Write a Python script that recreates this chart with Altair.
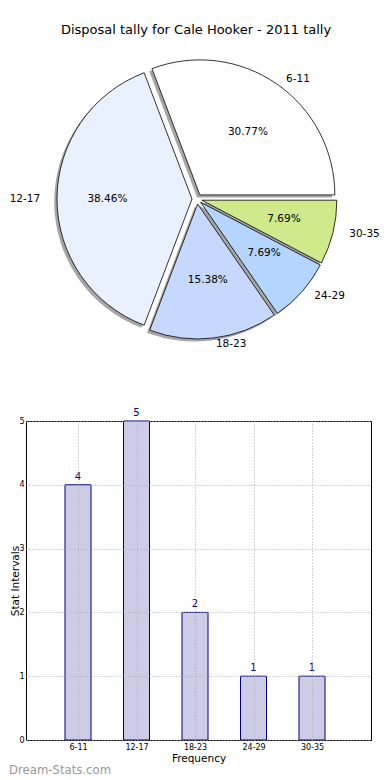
import altair as alt
import pandas as pd

# ---- data ----
categories = ["6-11", "12-17", "18-23", "24-29", "30-35"]
counts = [4, 5, 2, 1, 1]
slice_colors = ["#ffffff", "#eaf1fe", "#c6d8fe", "#b4d5fe", "#ceea8a"]
chart_title = ["Disposal tally for Cale Hooker - 2011 tally"]
x_title = "Frequency"
y_title = "Stat Intervals"
y_ticks = [0, 1, 2, 3, 4, 5]
watermark = ["Dream-Stats.com"]

# ---- layout constants ----
FONT = "DejaVu Sans"
OX = 25          # page x of panel origin
OY = 8
PW = 370 - OX    # panel width
PIE_H = 393
BAR_H = 319
CX = 196 - OX
CY = 199 - OY
R = 135
EXPL = 5
RX, RY = 138, 128
STEP = 58.5
X_PAD = (PW / STEP - 4) / 2
X_ALIGN = (77 - OX) / (PW - 4 * STEP)

df = pd.DataFrame({"cat": categories, "count": counts,
                   "idx": list(range(len(categories))), "color": slice_colors})

pie_base = (
    alt.Chart(df)
    .transform_window(cum="sum(count)", sort=[alt.SortField("idx", order="ascending")], frame=[None, 0])
    .transform_joinaggregate(total="sum(count)")
    .transform_calculate(
        a0="2*PI*(datum.cum - datum.count)/datum.total",
        a1="2*PI*datum.cum/datum.total",
        am="(datum.a0 + datum.a1)/2",
        t0="PI/2 - datum.a1",
        t1="PI/2 - datum.a0",
        ex=f"{CX} + {EXPL}*cos(datum.am)",
        ey=f"{CY} - {EXPL}*sin(datum.am)",
        pct="format(100*datum.count/datum.total, '.2f') + '%'",
        lx=f"datum.ex + {1.1*RX}*cos(datum.am)",
        ly=f"datum.ey - {1.1*RY}*sin(datum.am)",
        px=f"datum.ex + {0.6*141}*cos(datum.am)",
        py=f"datum.ey - {0.6*RY}*sin(datum.am)",
        sx="datum.ex - 2.8",
        sy="datum.ey + 2.6",
        side="cos(datum.am) >= 0 ? 'r' : 'l'",
    )
)

theta = alt.Theta("t0:Q", scale=None, stack=None)
theta2 = alt.Theta2("t1:Q")

shadow = pie_base.mark_arc(fill="#4d4d4d", fillOpacity=0.5).encode(
    theta=theta, theta2=theta2,
    x=alt.X("sx:Q", scale=None, axis=None),
    y=alt.Y("sy:Q", scale=None, axis=None),
    radius=alt.value(R),
)

slices = pie_base.mark_arc(stroke="black", strokeWidth=0.8).encode(
    theta=theta, theta2=theta2,
    x=alt.X("ex:Q", scale=None, axis=None),
    y=alt.Y("ey:Q", scale=None, axis=None),
    radius=alt.value(R),
    color=alt.Color("color:N", scale=None, legend=None),
)

pct = pie_base.mark_text(font=FONT, fontSize=10.5, color="black", baseline="middle").encode(
    x=alt.X("px:Q", scale=None, axis=None),
    y=alt.Y("py:Q", scale=None, axis=None),
    text="pct:N",
)

lab_r = pie_base.transform_filter("datum.side == 'r'").mark_text(
    font=FONT, fontSize=10.5, color="black", align="left", baseline="middle").encode(
    x=alt.X("lx:Q", scale=None, axis=None),
    y=alt.Y("ly:Q", scale=None, axis=None),
    text="cat:N",
)
lab_l = pie_base.transform_filter("datum.side == 'l'").mark_text(
    font=FONT, fontSize=10.5, color="black", align="right", baseline="middle").encode(
    x=alt.X("lx:Q", scale=None, axis=None),
    y=alt.Y("ly:Q", scale=None, axis=None),
    text="cat:N",
)

title_mark = alt.Chart(pd.DataFrame({"t": chart_title})).mark_text(
    font=FONT, fontSize=13, color="black", baseline="middle").encode(
    text="t:N", x=alt.value(195 - OX), y=alt.value(30 - OY))

pie = alt.layer(shadow, slices, pct, lab_r, lab_l, title_mark).properties(
    width=PW, height=PIE_H, view=alt.ViewBackground(stroke=None))

# ---- bar chart ----
bar_df = pd.DataFrame({"cat": categories, "count": counts})

xenc = alt.X("cat:N", sort=categories,
             scale=alt.Scale(type="point", padding=X_PAD, align=X_ALIGN),
             axis=alt.Axis(title=x_title, labelAngle=0, ticks=False, labelPadding=3,
                           labelFontSize=8, labelFont=FONT, labelColor="black",
                           titleFont=FONT, titleFontSize=10.5, titleFontWeight="normal",
                           titleColor="black", titlePadding=2,
                           grid=True, gridDash=[1, 2], gridColor="#aaaaaa", gridWidth=1,
                           domain=False, zindex=1))
yenc = alt.Y("count:Q", scale=alt.Scale(domain=[0, 5], nice=False),
             axis=alt.Axis(title=y_title, values=y_ticks, ticks=False, labelPadding=2,
                           labelFontSize=8, labelFont=FONT, labelColor="black",
                           titleFont=FONT, titleFontSize=10.5, titleFontWeight="normal",
                           titleColor="black", titleX=-5.5,
                           grid=True, gridDash=[1, 2], gridColor="#aaaaaa", gridWidth=1,
                           domain=False, zindex=1))

bars = alt.Chart(bar_df).mark_bar(width=26, fill="#ccccE6", stroke="#000080", strokeWidth=1).encode(
    x=xenc, y=yenc)

vals = alt.Chart(bar_df).mark_text(dy=-5, baseline="alphabetic", color="#000080",
                                   fontSize=10, font=FONT).encode(
    x=xenc, y=yenc, text="count:Q")

wm = alt.Chart(pd.DataFrame({"w": watermark})).mark_text(
    align="left", baseline="middle", fontSize=11.7, color="#999999", font=FONT).encode(
    text="w:N", x=alt.value(8 - OX), y=alt.value(770 - 421))

bar = alt.layer(bars, vals, wm).properties(
    width=PW, height=BAR_H, view=alt.ViewBackground(stroke="black", strokeWidth=1))

chart = alt.vconcat(pie, bar, spacing=20, bounds="flush", padding=0).configure(font=FONT)

chart.save("out.html", embed_options={"renderer": "svg", "actions": False})
